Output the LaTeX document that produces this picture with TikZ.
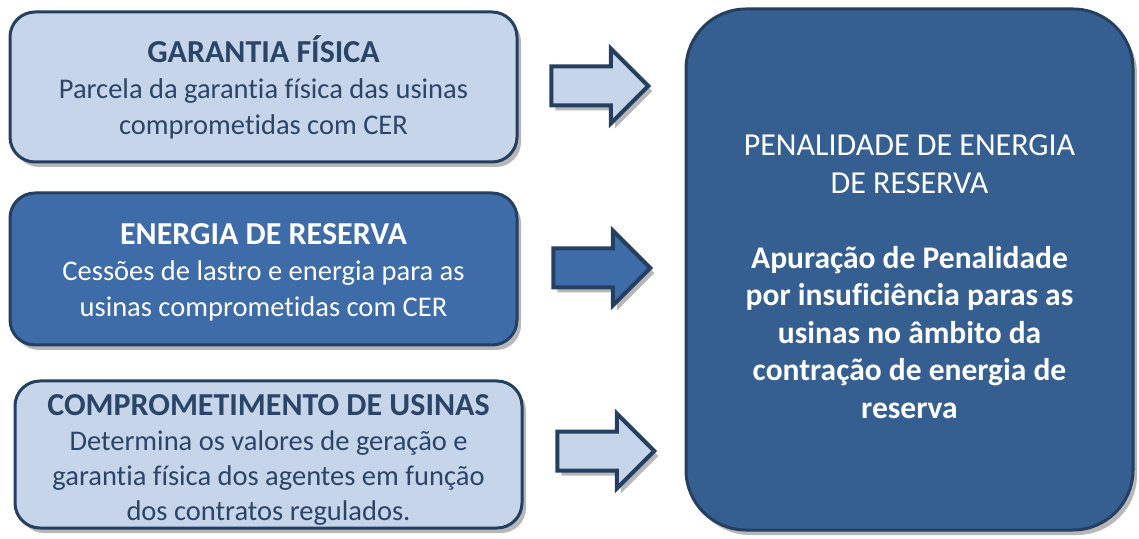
\documentclass[tikz,border=0pt]{standalone}
\usepackage{fontspec}
\setmainfont{Carlito}[Ligatures=NoCommon]
\usetikzlibrary{shapes.arrows, shadows}
\definecolor{LightFill}{HTML}{C6D5EA}
\definecolor{MidBlue}{HTML}{3E6CA8}
\definecolor{DeepBlue}{HTML}{365F91}
\definecolor{NavyLine}{HTML}{243F60}
\definecolor{NavyText}{HTML}{2B4568}

\tikzset{
  softshadow/.style={drop shadow={shadow xshift=4pt, shadow yshift=-5pt, opacity=0.4, fill=black!70}},
  infobox/.style={draw=NavyLine, line width=3pt, rounded corners=25pt, minimum width=507pt,
                  align=center, inner sep=6pt, font=\fontsize{28.5}{36}\selectfont, softshadow},
  lightbox/.style={infobox, fill=LightFill, text=NavyText},
  darkbox/.style={infobox, fill=MidBlue, text=white},
  blockarrow/.style={single arrow, draw=NavyLine, line width=4pt, inner xsep=0pt, inner ysep=17.5pt,
                     minimum height=97pt, single arrow head extend=18pt, softshadow}
}
\newcommand{\ttl}[1]{{\bfseries\fontsize{32}{37}\selectfont #1}}

\begin{document}
\begin{tikzpicture}[x=1pt, y=1pt]
  \useasboundingbox (0,0) rectangle (1139,538);

  % blocos da esquerda
  \node[lightbox, minimum height=150pt] (garantia) at (263.5,451) {
    \ttl{GARANTIA FÍSICA}\\
    Parcela da garantia física das usinas\\
    comprometidas com CER
  };
  \node[darkbox, minimum height=152pt] (energia) at (263.5,269) {};
  \node[text=white, align=center, font=\fontsize{28.5}{36}\selectfont] (energiaTxt)
    at ([yshift=-3pt]energia.center) {
    \ttl{ENERGIA DE RESERVA}\\
    Cessões de lastro e energia para as\\
    usinas comprometidas com CER
  };
  \node[lightbox, minimum height=147pt] (comprom) at (268.5,83.5) {};
  \node[text=NavyText, align=center, font=\fontsize{28.5}{35}\selectfont] (compromTxt)
    at ([yshift=-5pt]comprom.center) {
    \ttl{COMPROMETIMENTO DE USINAS}\\
    Determina os valores de geração e\\
    garantia física dos agentes em função\\
    dos contratos regulados.
  };

  % bloco de resultado
  \node[draw=NavyLine, line width=3pt, fill=DeepBlue, rounded corners=60pt,
        minimum width=447pt, minimum height=521pt, softshadow] (penalidade) at (909.5,268.5) {};
  \node[text=white, align=center, font=\fontsize{32}{37.5}\selectfont] (penalidadeTxt)
    at ([yshift=-7pt]penalidade.center) {
    PENALIDADE DE ENERGIA\\
    DE RESERVA\\[37.5pt]
    {\bfseries\fontsize{31.5}{37}\selectfont Apuração de Penalidade}\\
    {\bfseries\fontsize{31.5}{37}\selectfont por insuficiência paras as}\\
    {\bfseries\fontsize{31.5}{37}\selectfont usinas no âmbito da}\\
    {\bfseries\fontsize{31.5}{37}\selectfont contração de energia de}\\
    {\bfseries\fontsize{31.5}{37}\selectfont reserva}
  };

  % setas
  \node[blockarrow, fill=LightFill] (arrGarantia) at (590,452) {};
  \node[blockarrow, fill=MidBlue] (arrEnergia) at (592,270) {};
  \node[blockarrow, fill=LightFill] (arrComprom) at (596,87) {};
\end{tikzpicture}
\end{document}
